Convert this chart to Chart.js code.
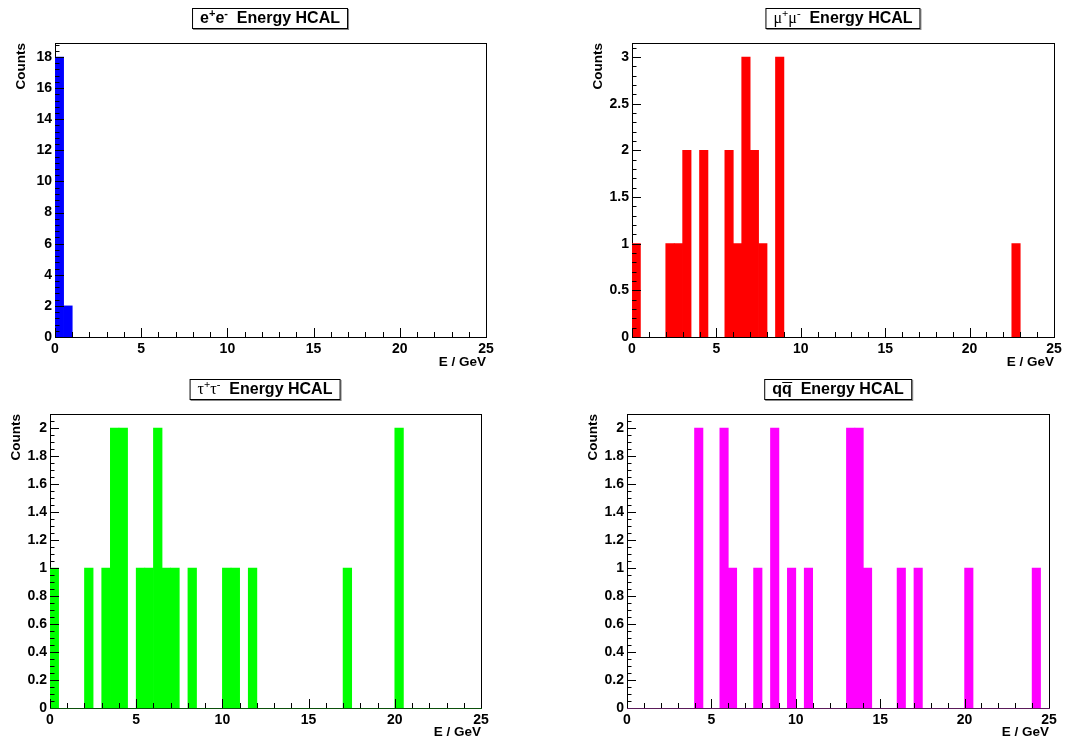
<!DOCTYPE html>
<html>
<head>
<meta charset="utf-8">
<script src="https://cdn.jsdelivr.net/npm/chart.js@4.4.0/dist/chart.umd.min.js"></script>
<style>
  html, body { margin: 0; padding: 0; background: #fff; }
  #page { position: relative; width: 1073px; height: 740px; overflow: hidden; }
  canvas { position: absolute; }
  .htitle {
    position: absolute;
    transform: translateX(-50%);
    height: 19px;
    line-height: 19px;
    padding: 0 7px;
    border: 1px solid #000;
    box-shadow: 1px 1px 0 #888;
    background: #fff;
    font: bold 16px "Liberation Sans", Arial, sans-serif;
    white-space: nowrap;
    color: #000;
  }
  .htitle sup { font-size: 11px; font-weight: bold; vertical-align: 6px; line-height: 0; }
  .greek { font-family: "Liberation Serif", serif; font-weight: normal; }
  .qbar { display: inline-block; line-height: 11px; border-top: 1.5px solid #000; padding-top: 0; }
</style>
</head>
<body>
<div id="page">
  <canvas id="c1" width="536" height="370" style="left:0;top:0"></canvas>
  <canvas id="c2" width="536" height="370" style="left:537px;top:0"></canvas>
  <canvas id="c3" width="536" height="370" style="left:0;top:370px"></canvas>
  <canvas id="c4" width="536" height="370" style="left:537px;top:370px"></canvas>

  <div class="htitle" style="left:270px;top:8px">e<sup>+</sup>e<sup>-</sup>&nbsp; Energy HCAL</div>
  <div class="htitle" style="left:843px;top:8px"><span class="greek">&mu;<sup>+</sup>&mu;<sup>-</sup></span>&nbsp; Energy HCAL</div>
  <div class="htitle" style="left:265px;top:379px"><span class="greek">&tau;<sup>+</sup>&tau;<sup>-</sup></span>&nbsp; Energy HCAL</div>
  <div class="htitle" style="left:838px;top:379px">q<span class="qbar">q</span>&nbsp; Energy HCAL</div>
</div>

<script>
// ====================================
// Histogram data: 50 bins of 0.5 GeV from 0 to 25
// ====================================

const nBins = 50;
const binWidth = 0.5;
const binCenters = Array.from({ length: nBins }, (_, i) => i * binWidth + binWidth / 2);

// e+e-
const countsEE = [
  18, 2, 0, 0, 0, 0, 0, 0, 0, 0,
  0, 0, 0, 0, 0, 0, 0, 0, 0, 0,
  0, 0, 0, 0, 0, 0, 0, 0, 0, 0,
  0, 0, 0, 0, 0, 0, 0, 0, 0, 0,
  0, 0, 0, 0, 0, 0, 0, 0, 0, 0
];

// mu+mu-
const countsMuMu = [
  1, 0, 0, 0, 1, 1, 2, 0, 2, 0,
  0, 2, 1, 3, 2, 1, 0, 3, 0, 0,
  0, 0, 0, 0, 0, 0, 0, 0, 0, 0,
  0, 0, 0, 0, 0, 0, 0, 0, 0, 0,
  0, 0, 0, 0, 0, 1, 0, 0, 0, 0
];

// tau+tau-
const countsTauTau = [
  1, 0, 0, 0, 1, 0, 1, 2, 2, 0,
  1, 1, 2, 1, 1, 0, 1, 0, 0, 0,
  1, 1, 0, 1, 0, 0, 0, 0, 0, 0,
  0, 0, 0, 0, 1, 0, 0, 0, 0, 0,
  2, 0, 0, 0, 0, 0, 0, 0, 0, 0
];

// q qbar
const countsQQ = [
  0, 0, 0, 0, 0, 0, 0, 0, 2, 0,
  0, 2, 1, 0, 0, 1, 0, 2, 0, 1,
  0, 1, 0, 0, 0, 0, 2, 2, 1, 0,
  0, 0, 1, 0, 1, 0, 0, 0, 0, 0,
  1, 0, 0, 0, 0, 0, 0, 0, 1, 0
];

// y-axis ranges (ROOT puts the max at 1.05 x the peak)
const yMaxes = [18.9, 3.15, 2.1, 2.1];
const yMajorSteps = [2, 0.5, 0.2, 0.2];
const yMinorSteps = [0.4, 0.1, 0.05, 0.05];
const xTicks = [0, 5, 10, 15, 20, 25];

// ====================================
// Plugin: ROOT style frame and inside ticks
// ====================================

const rootFrame = {
  id: 'rootFrame',
  beforeDatasetsDraw(chart) {
    const { ctx, chartArea: a } = chart;
    ctx.save();
    ctx.strokeStyle = '#000';
    ctx.lineWidth = 1;
    ctx.strokeRect(Math.round(a.left) + 0.5, Math.round(a.top) + 0.5,
      Math.round(a.right - a.left), Math.round(a.bottom - a.top));
    ctx.restore();
  },
  afterDatasetsDraw(chart, args, opts) {
    const { ctx, chartArea: a, scales: { x, y } } = chart;
    ctx.save();
    ctx.strokeStyle = '#000';
    ctx.lineWidth = 1;
    ctx.beginPath();

    // y ticks, pointing right into the frame
    const nY = Math.floor((y.max - y.min) / opts.yMinor + 1e-6);
    const sub = Math.round(opts.yMajor / opts.yMinor);
    for (let i = 0; i <= nY; i++) {
      const py = Math.round(y.getPixelForValue(y.min + i * opts.yMinor)) + 0.5;
      const len = i % sub === 0 ? 9 : 4.5;
      ctx.moveTo(a.left, py);
      ctx.lineTo(a.left + len, py);
    }

    // x ticks, pointing up into the frame
    for (let v = 0; v <= 25; v++) {
      const px = Math.round(x.getPixelForValue(v)) + 0.5;
      const len = v % 5 === 0 ? 9 : 5;
      ctx.moveTo(px, a.bottom);
      ctx.lineTo(px, a.bottom - len);
    }
    ctx.stroke();

    // bottom axis line
    ctx.beginPath();
    ctx.strokeStyle = opts.axisColor;
    const by = Math.round(a.bottom) + 0.5;
    ctx.moveTo(a.left, by);
    ctx.lineTo(a.right + 1, by);
    ctx.stroke();
    ctx.restore();
  }
};

// ====================================
// Chart builder
// ====================================

const tickFont = { family: "'Liberation Sans', Arial, sans-serif", size: 14, weight: 'bold' };
const titleFont = { family: "'Liberation Sans', Arial, sans-serif", size: 13.5, weight: 'bold' };

// ROOT prints 1 rather than 1.0
const fmtTick = v => String(Number(v.toFixed(2)));

function createHist(canvasId, counts, color, idx, layout) {
  const ctx = document.getElementById(canvasId).getContext('2d');
  return new Chart(ctx, {
    type: 'bar',
    data: {
      datasets: [{
        // empty bins are not drawn
        data: binCenters.map((c, i) => ({ x: c, y: counts[i] || null })),
        backgroundColor: color,
        borderWidth: 0,
        barPercentage: 1,
        categoryPercentage: 1
      }]
    },
    plugins: [rootFrame],
    options: {
      responsive: false,
      animation: false,
      devicePixelRatio: 1,
      layout: { padding: layout.padding },
      plugins: {
        legend: { display: false },
        tooltip: { enabled: false },
        rootFrame: {
          yMajor: yMajorSteps[idx],
          yMinor: yMinorSteps[idx],
          axisColor: layout.axisColor
        }
      },
      scales: {
        x: {
          type: 'linear',
          min: 0,
          max: 25,
          offset: false,
          afterFit(scale) { scale.height = layout.xHeight; },
          afterBuildTicks(scale) { scale.ticks = xTicks.map(v => ({ value: v })); },
          grid: { display: false, drawTicks: false },
          border: { display: false },
          ticks: { font: tickFont, color: '#000', padding: 4, maxRotation: 0, callback: fmtTick },
          title: {
            display: true,
            text: 'E / GeV',
            align: 'end',
            color: '#000',
            font: titleFont,
            padding: 0
          }
        },
        y: {
          min: 0,
          max: yMaxes[idx],
          afterFit(scale) { scale.width = 45; },
          grid: { display: false, drawTicks: false },
          border: { display: false },
          ticks: {
            stepSize: yMajorSteps[idx],
            includeBounds: false,
            font: tickFont,
            color: '#000',
            padding: 3,
            callback: fmtTick
          },
          title: {
            display: true,
            text: 'Counts',
            align: 'end',
            color: '#000',
            font: titleFont,
            padding: { top: 3, bottom: 0 }
          }
        }
      }
    }
  });
}

createHist('c1', countsEE, '#0000ff', 0, {
  padding: { left: 10, top: 43, right: 50, bottom: 0 }, xHeight: 33, axisColor: '#000'
});
createHist('c2', countsMuMu, '#ff0000', 1, {
  padding: { left: 50, top: 43, right: 19, bottom: 0 }, xHeight: 33, axisColor: '#000'
});
createHist('c3', countsTauTau, '#00ff00', 2, {
  padding: { left: 5, top: 44, right: 55, bottom: 0 }, xHeight: 32, axisColor: '#0b4f0b'
});
createHist('c4', countsQQ, '#ff00ff', 3, {
  padding: { left: 45, top: 44, right: 24, bottom: 0 }, xHeight: 32, axisColor: '#5a1a5a'
});
</script>
</body>
</html>
